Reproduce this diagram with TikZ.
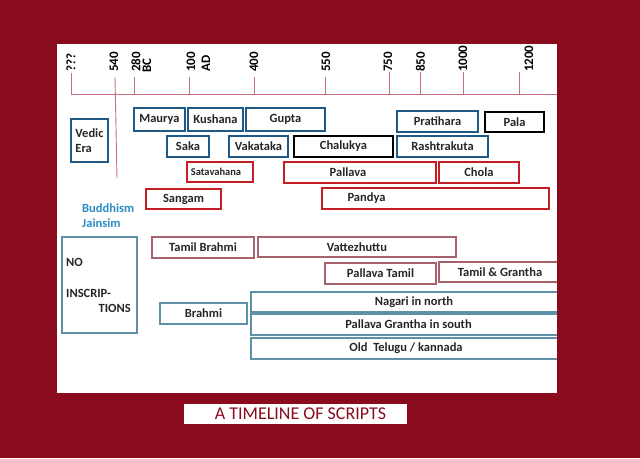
\documentclass[tikz,border=0pt]{standalone}
\usepackage{fontspec}
\setmainfont{Carlito}
\definecolor{bgred}{HTML}{8A0A1E}
\definecolor{bblue}{HTML}{1F5A87}
\definecolor{bred}{HTML}{C41E24}
\definecolor{bmauve}{HTML}{A8626C}
\definecolor{bgrey}{HTML}{5E90A8}
\definecolor{tline}{HTML}{C8707E}
\definecolor{teal}{HTML}{2A8CC4}
\newcommand\bx[8]{%
  \node[box,#2,minimum width={(#5-#3)*1pt},minimum height={(#6-#4)*1pt},
    label={[lbl,xshift=#7pt]center:#8}] (#1) at ({(#3+#5)/2},{(#4+#6)/2}) {};}
\tikzset{
  box/.style={draw,inner sep=0pt,line width=1.4pt},
  lbl/.style={inner sep=0pt,font=\bfseries\fontsize{12.5}{14}\selectfont,text=black!85},
  blu/.style={draw=bblue},
  blk/.style={draw=black},
  rd/.style={draw=bred},
  mv/.style={draw=bmauve,line width=1.1pt},
  gr/.style={draw=bgrey,line width=1.1pt},
  yr/.style={rotate=90,anchor=west,inner sep=0pt,font=\bfseries\fontsize{13}{14}\selectfont},
  tick/.style={draw=tline,line width=0.9pt},
}
\begin{document}
\begin{tikzpicture}[x=1pt,y=-1pt]
\useasboundingbox (0,0) rectangle (640,458);
\fill[bgred] (0,0) rectangle (640,458);
\fill[white] (57,44) rectangle (557,393);
% timeline
\coordinate (tl) at (71,94);
\coordinate (tr) at (557,94);
\draw[tick] (tl) -- (tr);
\foreach \x/\t in {71/73,134/77,189/77,254/77,325/77,389/72,420/72,463/72,519/72}
  \draw[tick] (\x,\t) -- (\x,94);
\coordinate (b540t) at (115,77);
\coordinate (b540b) at (117,178);
\draw[tick] (b540t) -- (b540b);
\node[yr] (y0) at (71,72) {???};
\node[yr] (y1) at (114,72) {540};
\node[yr] (y2) at (136,72) {280};
\node[yr] (y2b) at (147,73) {BC};
\node[yr] (y3) at (191,72) {100};
\node[yr] (y3b) at (206,72) {AD};
\node[yr] (y4) at (254,72) {400};
\node[yr] (y5) at (326,72) {550};
\node[yr] (y6) at (388,72) {750};
\node[yr] (y7) at (420.5,72) {850};
\node[yr] (y8) at (463,72) {1000};
\node[yr] (y9) at (529,72) {1200};
% dynasties
\bx{maurya}{blu}{134}{108}{185}{131}{0}{Maurya}
\bx{kushana}{blu}{188}{108}{243}{131}{0}{Kushana}
\bx{gupta}{blu}{246}{108}{325}{131}{0}{Gupta}
\bx{pratihara}{blu}{397}{111}{478}{132}{0}{Pratihara}
\bx{pala}{blk}{485}{112}{544}{132}{0}{Pala}
\node[box,blu,minimum width=37pt,minimum height=43pt,align=left,
  font=\bfseries\fontsize{12.5}{15}\selectfont,text=black!85] (vedic) at (89.5,140.5) {Vedic\\Era};
\bx{saka}{blu}{167}{136}{209}{157}{0}{Saka}
\bx{vakataka}{blu}{229}{136}{288}{157}{0}{Vakataka}
\bx{chalukya}{blk}{294}{136}{393}{157}{0}{Chalukya}
\bx{rashtrakuta}{blu}{397}{136}{488}{157}{0}{Rashtrakuta}
\bx{satavahana}{rd}{187}{162}{253}{182}{-4}{\fontsize{10.5}{12}\selectfont Satavahana}
\bx{pallava}{rd}{284}{162}{436}{183}{-12}{Pallava}
\bx{chola}{rd}{439}{162}{519}{183}{0}{Chola}
\bx{sangam}{rd}{146}{189}{221}{209}{0}{Sangam}
\bx{pandya}{rd}{322}{188}{549}{209}{-69}{Pandya}
\node[anchor=west,inner sep=0pt,align=left,text=teal,
  font=\bfseries\fontsize{12.5}{15}\selectfont] (bud) at (82,215.5) {Buddhism\\Jainsim};
% scripts
\node[box,gr,minimum width=75pt,minimum height=96pt] (noins) at (99.5,285) {};
\node[anchor=west,inner sep=0pt,font=\bfseries\fontsize{12.5}{14}\selectfont,text=black!85] (no1) at (66,262) {NO};
\node[anchor=west,inner sep=0pt,font=\bfseries\fontsize{12.5}{14}\selectfont,text=black!85] (no2) at (66,293) {INSCRIP-};
\node[anchor=east,inner sep=0pt,font=\bfseries\fontsize{12.5}{14}\selectfont,text=black!85] (no3) at (131,308) {TIONS};
\begin{scope}
\clip (57,44) rectangle (557,393);
\bx{tbrahmi}{mv}{152}{237}{254}{258}{0}{Tamil Brahmi}
\bx{vatt}{mv}{258}{237}{456}{257}{0}{Vattezhuttu}
\bx{ptamil}{mv}{325}{263}{436}{284}{0}{Pallava Tamil}
\bx{tgrantha}{mv}{439}{262}{561}{282}{0}{Tamil \& Grantha}
\bx{brahmi}{gr}{160}{303}{247}{324}{0}{Brahmi}
\bx{nagari}{gr}{251}{292}{577}{312}{0}{Nagari in north}
\bx{pgrantha}{gr}{251}{314}{566}{335}{0}{Pallava Grantha in south}
\bx{telugu}{gr}{251}{338}{561}{359}{0}{Old\ \ Telugu / kannada}
\end{scope}
% title
\node[fill=white,inner sep=0pt,minimum width=223pt,minimum height=20pt,
  label={[inner sep=0pt,xshift=5pt,text=bgred,font=\fontsize{18}{20}\selectfont]center:A TIMELINE OF SCRIPTS}] (title) at (295.5,414) {};
\end{tikzpicture}
\end{document}
